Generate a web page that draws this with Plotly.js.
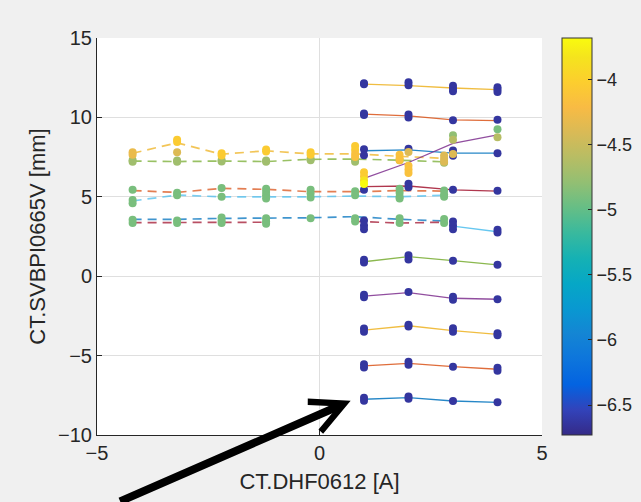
<!DOCTYPE html>
<html><head><meta charset="utf-8">
<script src="https://cdn.plot.ly/plotly-3.0.1.min.js"></script>
<style>html,body{margin:0;padding:0;background:#f0f0f0;}#chart{width:641px;height:502px;}</style>
</head><body><div id="chart"></div>
<script>
// ---------- x positions ----------
const xDash = [-4.2, -3.2, -2.2, -1.2, -0.2, 0.8, 1.8, 2.8];
const xSolid = [1, 2, 3, 4];

// ---------- colour-axis values (third variable) ----------
const cDark = -6.64, cGreen = -4.9, cLime = -4.72, cOlive = -4.38, cOrange = -4.15, cGold = -4.05, cLemon = -3.83, cBright = -3.68;
const cbTicks = [-6.5, -6, -5.5, -5, -4.5, -4];
const cRange = [-6.73, -3.68];

// ---------- dashed series (left scan) ----------
const dashYellow = [7.74, 8.40, 7.68, 7.90, 7.70, 7.70, 7.55, 7.42];
const dashGreen  = [7.25, 7.22, 7.25, 7.22, 7.36, 7.38, 7.30, 7.20];
const dashOrange = [5.39, 5.28, 5.53, 5.47, 5.32, 5.32, 5.39, 5.36];
const dashCyan   = [4.74, 5.11, 5.00, 5.00, 5.00, 5.05, 5.00, 5.10];
const dashBlue   = [3.58, 3.58, 3.64, 3.64, 3.68, 3.75, 3.58, 3.48];
const dashRed    = [3.37, 3.37, 3.37, 3.40, null, 3.45, 3.35, 3.40];

const ptsDashYellow  = [[7.8,7.65],[8.6,8.45,7.8],[7.75,7.6],[7.98,7.85],[7.8,7.65],[8.2,7.95,7.7,7.5],[7.65,7.45,7.3],[7.6,7.4,7.2]];
const ptsDashYellowC = [[-4.3,-4.3],[cGold,cGold,cOlive],[cGold,cGold],[cGold,cGold],[cGold,cGold],[cGold,cGold,cOrange,cOrange],[cOrange,cOrange,cOrange],[cOlive,cOlive,cOlive]];
const ptsDashGreen   = [[7.3,7.2],[7.28,7.2],[7.3,7.22],[7.28,7.2],[7.4,7.3],[7.35,7.2],[7.3],[7.15]];
const ptsDashMid     = [[5.45,4.8,4.6],[5.25,5.1],[5.55,5.0],[5.5,5.3,5.1,4.9],[5.45,5.2,4.95],[5.35,5.1],[5.5,5.25,5.0,4.9],[5.4,5.15,5.0]];
const ptsDashLow     = [[3.55,3.35],[3.5,3.35],[3.7,3.5,3.35],[3.65,3.45,3.3],[3.65],[3.65,3.45],[3.65,3.35],[3.6,3.35]];

// ---------- solid series (right scan) ----------
const solidBlueLow    = [-7.75, -7.65, -7.86, -7.94];
const solidOrangeLow  = [-5.65, -5.49, -5.70, -5.86];
const solidYellowLow  = [-3.39, -3.12, -3.43, -3.66];
const solidPurpleLow  = [-1.25, -1.04, -1.39, -1.45];
const solidGreen      = [0.91, 1.23, 0.98, 0.71];
const solidCyan       = [3.25, null, 3.16, 2.80];
const solidRed        = [5.64, 5.68, 5.43, 5.36];
const solidBlueHigh   = [7.90, 7.95, 7.75, 7.75];
const solidOrangeHigh = [10.20, 10.10, 9.85, 9.80];
const solidYellowHigh = [12.10, 12.00, 11.85, 11.75];
const solidPurpleHigh = [6.16, 7.16, 8.37, 8.90];

const ptsBlueLow    = [[-7.65,-7.85],[-7.58,-7.72],[-7.86],[-7.94]];
const ptsOrangeLow  = [[-5.55,-5.75],[-5.38,-5.58],[-5.7],[-5.76,-5.95]];
const ptsYellowLow  = [[-3.3,-3.5],[-3.05,-3.17],[-3.28,-3.5],[-3.6,-3.72]];
const ptsPurpleLow  = [[-1.17,-1.33],[-1.0],[-1.3,-1.48],[-1.45]];
const ptsGreen      = [[1.03,0.87],[1.32,1.05],[0.98],[0.72]];
const ptsCyan       = [[3.5,3.2,2.95],[],[3.45,3.2,2.95],[2.93,2.75]];
const ptsRed        = [[5.45],[5.82,5.6],[5.45],[5.38]];
const ptsBlueHigh   = [[8.0,7.62],[8.02],[7.92,7.58],[7.75]];
const ptsBlueHighOl = [[],[7.82],[7.7],[]];
const ptsOrangeHigh = [[10.25,10.15],[10.18,10.0],[9.82],[9.85]];
const ptsYellowHigh = [[12.15,12.08],[12.22,12.02],[12.0,11.8,11.65],[11.9,11.75,11.6]];
const ptsPurpleHigh  = [[6.55,6.3,6.03,5.8],[6.95,6.72,6.5],[8.88,8.6],[9.25,8.75]];
const ptsPurpleHighC = [[cGold,cGold,cLemon,cBright],[cOrange,cOrange,cOrange],[-4.8,-4.6],[cGreen,-4.6]];

// ---------- styles ----------
const ML = {blue:'#0072BD', orange:'#D95319', yellow:'#EDB120', purple:'#7E2F8E', green:'#77AC30', cyan:'#4DBEEE', red:'#A2142F'};
const parula = [
  [0.0,'rgb(53,42,135)'],[0.0635,'rgb(50,67,186)'],[0.127,'rgb(3,99,225)'],[0.1905,'rgb(13,117,220)'],
  [0.254,'rgb(20,133,212)'],[0.3175,'rgb(9,152,209)'],[0.381,'rgb(6,167,198)'],[0.4444,'rgb(21,177,180)'],
  [0.508,'rgb(56,185,158)'],[0.5714,'rgb(101,190,134)'],[0.6349,'rgb(146,191,115)'],[0.6984,'rgb(183,189,100)'],
  [0.7619,'rgb(217,186,86)'],[0.8254,'rgb(248,187,68)'],[0.8889,'rgb(252,206,46)'],[0.9524,'rgb(245,228,29)'],
  [1.0,'rgb(249,251,14)']
];

const traces = [];
function lineTrace(xs, ys, color, dashed) {
  traces.push({x: xs, y: ys, type: 'scatter', mode: 'lines', hoverinfo: 'skip', opacity: dashed ? 0.75 : 0.85,
    line: {color: color, width: dashed ? 1.7 : 1.3, dash: dashed ? '9px,6px' : 'solid'}});
}
[[dashYellow,'yellow'],[dashGreen,'green'],[dashOrange,'orange'],[dashCyan,'cyan'],[dashBlue,'blue'],[dashRed,'red']]
  .forEach(([ys,c]) => lineTrace(xDash, ys, ML[c], true));
[[solidBlueLow,'blue'],[solidOrangeLow,'orange'],[solidYellowLow,'yellow'],[solidPurpleLow,'purple'],[solidGreen,'green'],
 [solidCyan,'cyan'],[solidRed,'red'],[solidBlueHigh,'blue'],[solidOrangeHigh,'orange'],[solidYellowHigh,'yellow'],[solidPurpleHigh,'purple']]
  .forEach(([ys,c]) => lineTrace(xSolid, ys, ML[c], false));

const PX = [], PY = [], PC = [];
function addPts(xs, nested, cv) {
  nested.forEach((arr, i) => arr.forEach((v, j) => {
    PX.push(xs[i]); PY.push(v); PC.push(Array.isArray(cv) ? cv[i][j] : cv);
  }));
}
[ptsBlueLow, ptsOrangeLow, ptsYellowLow, ptsPurpleLow, ptsGreen, ptsCyan, ptsRed, ptsBlueHigh, ptsOrangeHigh, ptsYellowHigh]
  .forEach(p => addPts(xSolid, p, cDark));
addPts(xDash, ptsDashLow, cGreen);
addPts(xDash, ptsDashMid, cGreen);
addPts(xDash, ptsDashGreen, cLime);
addPts(xDash, ptsDashYellow, ptsDashYellowC);
addPts(xSolid, ptsBlueHighOl, cOlive);
addPts(xSolid, ptsPurpleHigh, ptsPurpleHighC);

traces.push({
  x: PX, y: PY, type: 'scatter', mode: 'markers', hoverinfo: 'skip',
  marker: {size: 8, color: PC, colorscale: parula, cmin: cRange[0], cmax: cRange[1], line: {width: 0}, showscale: true,
    colorbar: {thickness: 30, thicknessmode: 'pixels', len: 1, lenmode: 'fraction', x: 1.045, xanchor: 'left',
      y: 0.5, yanchor: 'middle', xpad: 0, ypad: 0, outlinewidth: 1, outlinecolor: '#333',
      ticks: 'inside', ticklen: 4, tickcolor: '#262626', tickvals: cbTicks,
      tickfont: {size: 18, color: '#262626'}}}
});

const axisFont = {family: 'Liberation Sans, Arial, sans-serif', size: 20, color: '#262626'};
const layout = {
  width: 641, height: 502,
  paper_bgcolor: '#f0f0f0', plot_bgcolor: '#ffffff',
  margin: {l: 97, r: 99, t: 38, b: 67, autoexpand: false},
  showlegend: false,
  font: axisFont,
  xaxis: {range: [-5, 5], tickvals: [-5, 0, 5], ticks: 'inside', ticklen: 5, tickcolor: '#262626',
    showline: true, linecolor: '#262626', linewidth: 1, showgrid: true, gridcolor: '#dfdfdf', zeroline: false,
    tickfont: axisFont, title: {text: 'CT.DHF0612 [A]', font: {size: 22, color: '#262626'}, standoff: 10}},
  yaxis: {range: [-10, 15], tickvals: [-10, -5, 0, 5, 10, 15], ticks: 'inside', ticklen: 5, tickcolor: '#262626',
    showline: true, linecolor: '#262626', linewidth: 1, showgrid: true, gridcolor: '#dfdfdf', zeroline: false,
    tickfont: axisFont, title: {text: 'CT.SVBPI0665V [mm]', font: {size: 22, color: '#262626'}, standoff: 6}},
  annotations: [{
    x: 0.7, y: -7.85, xref: 'x', yref: 'y', ax: -232, ay: 108, axref: 'pixel', ayref: 'pixel',
    text: '', showarrow: true, arrowhead: 5, arrowsize: 0.8, arrowwidth: 8, arrowcolor: '#000000'
  }]
};
Plotly.newPlot('chart', traces, layout, {staticPlot: true, displayModeBar: false});
</script></body></html>
